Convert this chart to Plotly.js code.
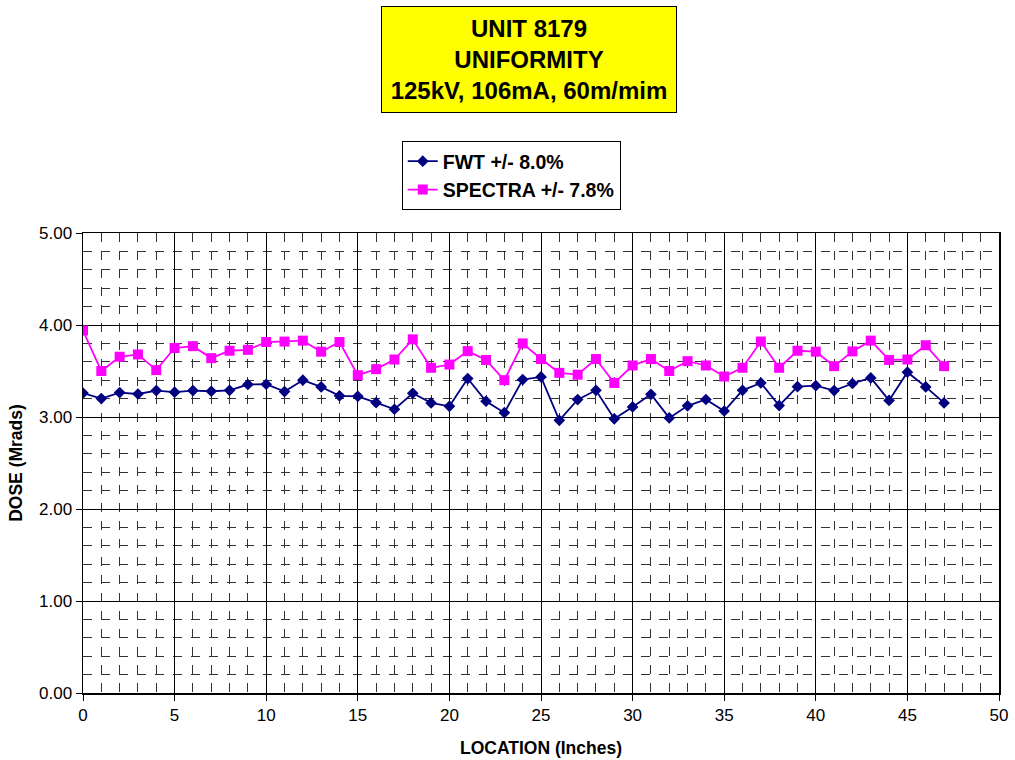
<!DOCTYPE html>
<html>
<head>
<meta charset="utf-8">
<script src="https://cdn.plot.ly/plotly-3.0.1.min.js"></script>
<style>html,body{margin:0;padding:0;background:#fff;}#chart{width:1015px;height:760px;}</style>
</head>
<body>
<div id="chart"></div>
<script>
const locations = [0,1,2,3,4,5,6,7,8,9,10,11,12,13,14,15,16,17,18,19,20,21,22,23,24,25,26,27,28,29,30,31,32,33,34,35,36,37,38,39,40,41,42,43,44,45,46,47];
const fwt = [3.26,3.20,3.265,3.25,3.287,3.27,3.287,3.28,3.29,3.353,3.356,3.276,3.40,3.327,3.23,3.225,3.156,3.084,3.258,3.153,3.116,3.418,3.171,3.047,3.407,3.436,2.964,3.189,3.29,2.98,3.11,3.247,2.99,3.122,3.19,3.065,3.29,3.37,3.124,3.33,3.34,3.287,3.364,3.425,3.18,3.487,3.327,3.153];
const spectra = [3.94,3.50,3.655,3.68,3.51,3.75,3.77,3.64,3.72,3.73,3.815,3.82,3.83,3.71,3.815,3.455,3.52,3.625,3.844,3.535,3.57,3.716,3.62,3.40,3.80,3.63,3.48,3.46,3.63,3.37,3.56,3.63,3.50,3.607,3.56,3.44,3.535,3.82,3.535,3.72,3.71,3.553,3.713,3.83,3.62,3.625,3.78,3.553];
const xTicks = [0,5,10,15,20,25,30,35,40,45,50];
const yTicks = [0,1,2,3,4,5];
const yTickText = ['0.00','1.00','2.00','3.00','4.00','5.00'];

const FONT = 'Liberation Sans, Arial, Helvetica, sans-serif';

const traces = [
  {x: locations, y: fwt, name: 'FWT +/- 8.0%', type: 'scatter', mode: 'lines+markers',
   line: {color: '#000080', width: 1.8}, marker: {symbol: 'diamond', size: 9, color: '#000080'}},
  {x: locations, y: spectra, name: 'SPECTRA +/- 7.8%', type: 'scatter', mode: 'lines+markers',
   line: {color: '#FF00FF', width: 1.8}, marker: {symbol: 'square', size: 10, color: '#FF00FF'}}
];

const layout = {
  width: 1015, height: 760,
  margin: {l: 83, r: 16, t: 233, b: 67},
  paper_bgcolor: '#fff', plot_bgcolor: '#fff',
  font: {family: FONT, color: '#000', size: 17},
  showlegend: true,
  legend: {x: 0.348, y: 1.2, xanchor: 'left', yanchor: 'top', bordercolor: '#000', borderwidth: 1,
           bgcolor: '#fff', font: {family: FONT, size: 19.5, color: '#000', weight: 'bold'},
           tracegroupgap: 0, itemwidth: 30},
  xaxis: {range: [0, 50], tickvals: xTicks, ticks: 'outside', ticklen: 6, tickcolor: '#000',
          showline: true, linecolor: '#000', linewidth: 1.5, mirror: true,
          showgrid: true, gridcolor: '#000', gridwidth: 1, zeroline: false,
          minor: {dtick: 1, showgrid: true, gridcolor: '#333', griddash: 'dash', gridwidth: 1},
          tickfont: {family: FONT, size: 17},
          title: {text: 'LOCATION (Inches)', font: {family: FONT, size: 17.5, weight: 'bold'}, standoff: 18}},
  yaxis: {range: [0, 5], tickvals: yTicks, ticktext: yTickText, ticks: 'outside', ticklen: 6, tickcolor: '#000',
          showline: true, linecolor: '#000', linewidth: 1.5, mirror: true,
          showgrid: true, gridcolor: '#000', gridwidth: 1, zeroline: false,
          minor: {dtick: 0.2, showgrid: true, gridcolor: '#333', griddash: 'dash', gridwidth: 1},
          tickfont: {family: FONT, size: 17},
          title: {text: 'DOSE (Mrads)', font: {family: FONT, size: 17.5, weight: 'bold'}, standoff: 12}},
  annotations: [{
    xref: 'paper', yref: 'paper', x: 0.487, y: 1.377, xanchor: 'center', yanchor: 'middle',
    text: 'UNIT 8179<br>UNIFORMITY<br>125kV, 106mA, 60m/mim', showarrow: false,
    font: {family: FONT, size: 24, color: '#000', weight: 'bold'},
    bgcolor: '#FFFF00', bordercolor: '#000', borderwidth: 1, width: 292, height: 103, align: 'center'
  }]
};

Plotly.newPlot('chart', traces, layout, {displayModeBar: false, staticPlot: true});
</script>
</body>
</html>
